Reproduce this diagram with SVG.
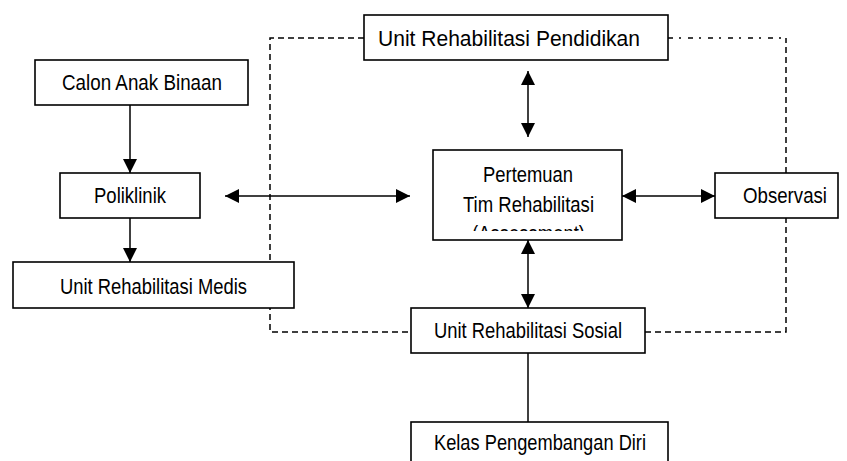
<svg xmlns="http://www.w3.org/2000/svg" width="847" height="461" viewBox="0 0 847 461">
<style>
.box{fill:#fff;stroke:#000;stroke-width:1.6}
.t{font-family:"Liberation Sans",Arial,sans-serif;font-size:22px;fill:#000}
.c{stroke:#000;stroke-width:1.5;fill:none}
.d{stroke:#000;stroke-width:1.5;fill:none;stroke-dasharray:6 4}
.dd{stroke:#000;stroke-width:1.5;fill:none;stroke-dasharray:5 6 2 7}
</style>
<defs>
<marker id="ah" viewBox="0 0 14 14" refX="14" refY="7" markerWidth="14" markerHeight="14" markerUnits="userSpaceOnUse" orient="auto-start-reverse">
<path d="M0,0 L14,7 L0,14 Z" fill="#000"/>
</marker>
<clipPath id="timclip"><rect x="433" y="150" width="189" height="81"/></clipPath>
</defs>
<g id="boundary">
<path class="d" d="M364,38 H270 V332 H411"/>
<path class="d" d="M645,332 H786 V38"/>
<path class="dd" d="M668,38 H786"/>
</g>
<g id="connectors">
<line class="c" x1="130" y1="105" x2="130" y2="173" marker-end="url(#ah)"/>
<line class="c" x1="130" y1="218" x2="130" y2="262" marker-end="url(#ah)"/>
<line class="c" x1="225" y1="196" x2="410" y2="196" marker-start="url(#ah)" marker-end="url(#ah)"/>
<line class="c" x1="528" y1="71" x2="528" y2="137" marker-start="url(#ah)" marker-end="url(#ah)"/>
<line class="c" x1="622" y1="196" x2="715" y2="196" marker-start="url(#ah)" marker-end="url(#ah)"/>
<line class="c" x1="528" y1="240" x2="528" y2="308" marker-start="url(#ah)" marker-end="url(#ah)"/>
<line class="c" x1="528" y1="353" x2="528" y2="422"/>
</g>
<g id="calon">
<rect class="box" x="35" y="60" width="213" height="45"/>
<text class="t" x="62" y="90" textLength="160" lengthAdjust="spacingAndGlyphs">Calon Anak Binaan</text>
</g>
<g id="poliklinik">
<rect class="box" x="60" y="173" width="140" height="45"/>
<text class="t" x="94" y="203" textLength="72" lengthAdjust="spacingAndGlyphs">Poliklinik</text>
</g>
<g id="medis">
<rect class="box" x="13" y="262" width="281" height="46"/>
<text class="t" x="60" y="294" textLength="187" lengthAdjust="spacingAndGlyphs">Unit Rehabilitasi Medis</text>
</g>
<g id="pendidikan">
<rect class="box" x="364" y="15" width="304" height="45"/>
<text class="t" x="378" y="46" textLength="262" lengthAdjust="spacingAndGlyphs">Unit Rehabilitasi Pendidikan</text>
</g>
<g id="tim">
<rect class="box" x="433" y="150" width="189" height="90"/>
<g clip-path="url(#timclip)">
<text class="t" x="483" y="182" textLength="90" lengthAdjust="spacingAndGlyphs">Pertemuan</text>
<text class="t" x="463" y="212" textLength="131" lengthAdjust="spacingAndGlyphs">Tim Rehabilitasi</text>
<text class="t" x="472" y="241" textLength="113" lengthAdjust="spacingAndGlyphs">(Assessment)</text>
</g>
</g>
<g id="observasi">
<rect class="box" x="715" y="173" width="123" height="45"/>
<text class="t" x="743" y="203" textLength="84" lengthAdjust="spacingAndGlyphs">Observasi</text>
</g>
<g id="sosial">
<rect class="box" x="411" y="308" width="234" height="45"/>
<text class="t" x="434" y="338" textLength="188" lengthAdjust="spacingAndGlyphs">Unit Rehabilitasi Sosial</text>
</g>
<g id="kelas">
<rect class="box" x="411" y="422" width="257" height="50"/>
<text class="t" x="434" y="450" textLength="212" lengthAdjust="spacingAndGlyphs">Kelas Pengembangan Diri</text>
</g>
</svg>
